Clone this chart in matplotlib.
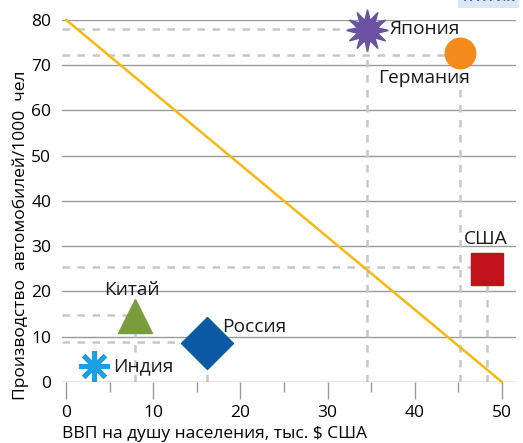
import matplotlib
matplotlib.use("Agg")
import matplotlib.pyplot as plt

# data
countries = ["Япония", "Германия", "США", "Китай", "Россия", "Индия"]
gdp = [34.5, 45.2, 48.3, 7.9, 16.2, 3.2]
cars = [77.8, 72.6, 25.0, 14.6, 8.6, 3.5]
guide_y = [78.0, 72.3, 25.3, 14.8, 8.8, None]
markers = [(12, 1, 0), "o", "s", "^", "D", (8, 2, 0)]
sizes = [30, 22, 23, 24, 26, 22]
colors = ["#6b52a3", "#f58a1f", "#c1121c", "#7b9c3c", "#0b5aa6", "#1ba1e3"]
label_pos = [(37.1, 78.0), (35.8, 67.2), (45.6, 31.6),
             (4.4, 20.2), (17.9, 12.2), (5.4, 3.4)]

trend_x = [0, 50]
trend_y = [80, 0]

plt.rcParams["font.family"] = ["Open Sans", "DejaVu Sans"]

fig = plt.figure(figsize=(5.23, 4.43), dpi=100)
ax = fig.add_axes([0.119, 0.138, 0.867, 0.817])
ax.set_xlim(-0.45, 51.6)
ax.set_ylim(0, 80)

for y in range(0, 81, 10):
    ax.axhline(y, color="#9a9a9a", linewidth=1, zorder=1)

# dashed guide lines
for x, y, gy in zip(gdp, cars, guide_y):
    if gy is None:
        continue
    ax.plot([-0.45, x], [gy, gy], color="#c8c8c8", linestyle=(0, (3, 3)), linewidth=1.8, zorder=1)
    ax.plot([x, x], [0, gy], color="#c8c8c8", linestyle=(0, (3, 3)), linewidth=1.8, zorder=1)

ax.plot(trend_x, trend_y, color="#f6b90f", linewidth=1.8, zorder=2, clip_on=False)

for x, y, m, s, c in zip(gdp, cars, markers, sizes, colors):
    if m == (8, 2, 0):
        ax.plot(x, y, marker=m, markersize=s, markeredgecolor=c, markeredgewidth=3.5,
                linestyle="none", zorder=3, clip_on=False)
    else:
        ax.plot(x, y, marker=m, markersize=s, color=c, markeredgecolor=c,
                linestyle="none", zorder=3, clip_on=False)

for name, (lx, ly) in zip(countries, label_pos):
    ax.text(lx, ly, name, ha="left", va="center", fontsize=13.8, color="#1a1a1a", zorder=4)

for side in ["left", "right", "top", "bottom"]:
    ax.spines[side].set_visible(False)

ax.set_xticks(range(0, 51, 10))
ax.set_xticks(range(5, 51, 10), minor=True)
ax.set_yticks(range(0, 81, 10))
ax.tick_params(axis="x", which="major", length=12, width=1, color="#9a9a9a", labelsize=12.5, pad=5)
ax.tick_params(axis="x", which="minor", length=7, width=1, color="#9a9a9a")
ax.tick_params(axis="y", length=0, labelsize=12.5, pad=8)

ax.set_xlabel("ВВП на душу населения, тыс. $ США", fontsize=12.5, loc="left", labelpad=3)
ax.set_ylabel("Производство  автомобилей/1000  чел", fontsize=12.5, labelpad=4)
ax.yaxis.set_label_coords(-0.074, 0.405)

fig.text(0.985, 1.005, "ГРАФИК", ha="right", va="center", fontsize=9, fontweight="bold",
         color="#2f6db5", bbox=dict(facecolor="#dce7f3", edgecolor="none", pad=3))

fig.savefig("out.png", dpi=100)
